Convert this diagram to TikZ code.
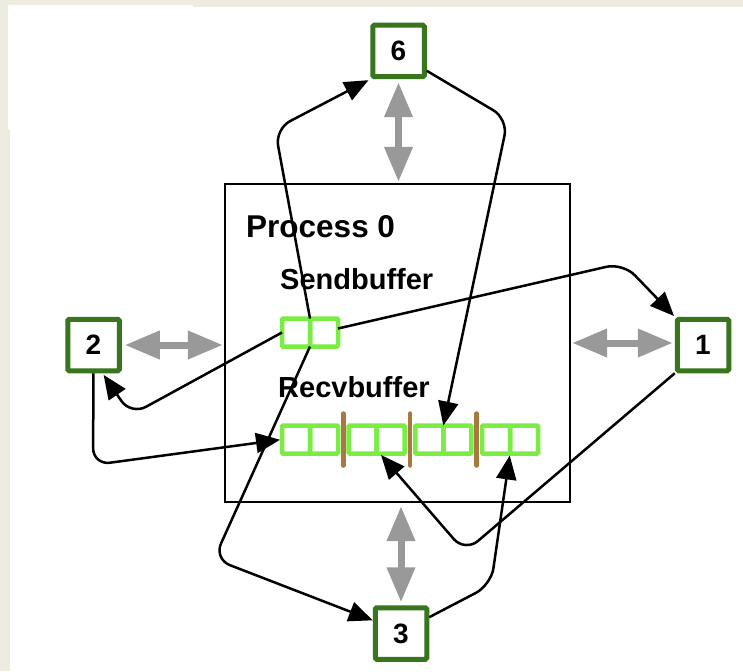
\documentclass[tikz,border=0pt]{standalone}
\usepackage{fontspec}
\setmainfont{Liberation Sans}
\usepackage{tikz}
\usetikzlibrary{arrows.meta,positioning,calc}
\definecolor{bgbeige}{RGB}{238,235,225}
\definecolor{nodegreen}{RGB}{56,118,29}
\definecolor{cellgreen}{RGB}{122,236,68}
\definecolor{sepbrown}{RGB}{168,122,66}
\definecolor{linkgray}{RGB}{153,153,153}
\tikzset{
  rank/.style={draw=nodegreen,line width=5pt,fill=white,minimum size=51.5pt,inner sep=0pt,rounded corners=1.5pt,font=\bfseries\fontsize{28}{28}\selectfont},
  cell/.style={draw=cellgreen,line width=4.5pt,minimum size=28pt,inner sep=0pt,outer sep=0pt,rounded corners=1pt},
  lbl/.style={font=\bfseries\fontsize{29}{29}\selectfont,inner sep=0pt,anchor=base west},
  link/.style={linkgray,line width=7pt,{Triangle[length=35pt,width=27pt]}-{Triangle[length=35pt,width=27pt]}},
  msg/.style={-{Triangle[length=24pt,width=20pt]},line width=2.5pt,rounded corners=17pt},
  sep/.style={sepbrown,line width=4.5pt,line cap=round}
}

\begin{document}
\begin{tikzpicture}[x=1pt,y=-1pt]
    \fill[bgbeige] (0,0) rectangle (743,671);
    \fill[white] (10,7) rectangle (743,671);
    \fill[white,rounded corners=1pt] (8,5) rectangle (193,130);
    \node[draw,line width=2.3pt,minimum width=345pt,minimum height=318pt,inner sep=0pt] (proc) at (397.5,343) {};
    \node[rank] (n6) at (398.5,51) {6};
    \node[rank] (n2) at (93.5,345) {2};
    \node[rank] (n1) at (703,345) {1};
    \node[rank] (n3) at (401,633.5) {3};
    \node[lbl,font=\bfseries\fontsize{31.5}{31.5}\selectfont] (ptitle) at (246,237) {Process 0};
    \node[lbl] (sendlbl) at (280,289) {Sendbuffer};
    \node[lbl] (recvlbl) at (278,397) {Recvbuffer};
    % send buffer
    \node[cell] (s1) at (296,332.5) {};
    \node[cell,right=0pt of s1] (s2) {};
    % receive buffer, one block per neighbour
    \foreach \i/\x in {1/296,2/324,3/362.7,4/390.7,5/429.3,6/457.3,7/496,8/524}
      \node[cell] (r\i) at (\x,439.5) {};
    \foreach \a/\b in {2/3,4/5,6/7}
      \draw[sep] ($(r\a.east)!0.5!(r\b.west)$) ++(0,-26) -- ++(0,52);
    % links to the neighbours
    \draw[link,shorten <=3pt,shorten >=1pt] (n6.south) -- (n6.south |- proc.north);
    \draw[link,shorten <=3pt,shorten >=3pt] (n3.north) -- (n3.north |- proc.south);
    \draw[link,shorten <=3pt,shorten >=1pt] (n2.east) -- (n2.east -| proc.west);
    \draw[link,shorten <=2pt,shorten >=1pt] ([yshift=2pt]n1.west) -- ([yshift=2pt]n1.west -| proc.east);
    % bends
    \coordinate (b6) at (275,129);
    \coordinate (b3) at (214,559);
    \coordinate (b2) at (131,415);
    \coordinate (b1) at (623,263);
    \coordinate (c6) at (508,119);
    \coordinate (c1) at (465,552);
    \coordinate (c3) at (491,585);
    \coordinate (c2) at (93,465);
    % sends
    \draw[msg,shorten >=2pt] (s1.north east) -- (b6) -- (n6.south west);
    \draw[msg] (s1.south east) -- (b3) -- (n3.155);
    \draw[msg,shorten >=2pt] (s1.west) -- (b2) -- ([xshift=9pt]n2.south);
    \draw[msg,shorten >=1pt] ([yshift=4pt]s2.east) -- (b1) -- (n1.north west);
    % receives
    \draw[msg] (n6.-35) -- (c6) -- (r5.north east);
    \draw[msg,shorten >=2pt] (n1.south west) -- (c1) -- ([xshift=3pt]r4.south west);
    \draw[msg,shorten >=2pt] (n3.30) -- (c3) -- (r7.south east);
    \draw[msg,shorten >=2pt] (n2.south) -- (c2) -- (r1.west);
\end{tikzpicture}
\end{document}
